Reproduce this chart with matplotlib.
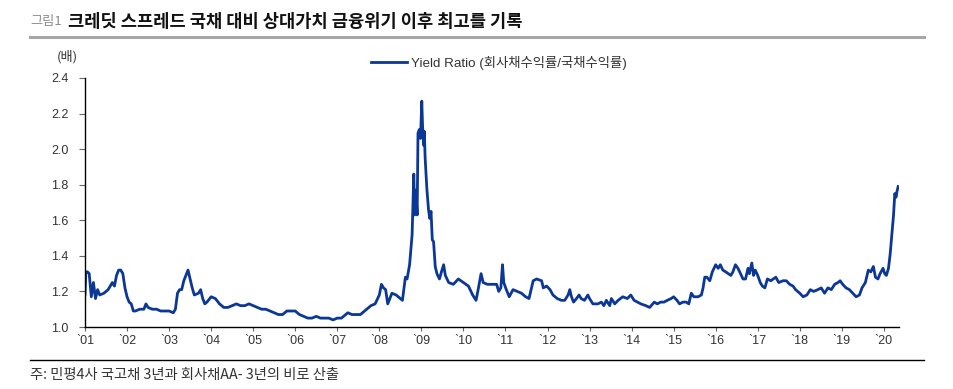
import matplotlib
matplotlib.use("Agg")
import matplotlib.pyplot as plt
from matplotlib.lines import Line2D
import numpy as np

# ---- data (decimal year, ratio) ----
dates = [
    2001.00, 2001.02, 2001.06, 2001.10, 2001.15, 2001.20, 2001.25, 2001.30, 2001.35, 2001.45,
    2001.55, 2001.65, 2001.70, 2001.75, 2001.80, 2001.85, 2001.90, 2001.95, 2002.00, 2002.05,
    2002.10, 2002.15, 2002.20, 2002.30, 2002.40, 2002.45, 2002.50, 2002.60, 2002.70, 2002.80,
    2002.90, 2003.00, 2003.10, 2003.15, 2003.20, 2003.25, 2003.30, 2003.35, 2003.45, 2003.50,
    2003.55, 2003.60, 2003.70, 2003.75, 2003.80, 2003.85, 2003.90, 2004.00, 2004.10, 2004.20,
    2004.30, 2004.40, 2004.50, 2004.60, 2004.70, 2004.80, 2004.90, 2005.00, 2005.10, 2005.20,
    2005.30, 2005.40, 2005.50, 2005.60, 2005.70, 2005.80, 2005.90, 2006.00, 2006.10, 2006.20,
    2006.30, 2006.40, 2006.50, 2006.60, 2006.70, 2006.80, 2006.90, 2007.00, 2007.10, 2007.20,
    2007.25, 2007.35, 2007.45, 2007.55, 2007.60, 2007.70, 2007.80, 2007.90, 2008.00, 2008.05,
    2008.10, 2008.15, 2008.20, 2008.25, 2008.30, 2008.40, 2008.50, 2008.55, 2008.62, 2008.66,
    2008.72, 2008.78, 2008.82, 2008.84, 2008.87, 2008.90, 2008.92, 2008.95, 2008.98, 2009.01,
    2009.03, 2009.06, 2009.07, 2009.09, 2009.13, 2009.17, 2009.20, 2009.23, 2009.26, 2009.29,
    2009.33, 2009.37, 2009.43, 2009.49, 2009.53, 2009.57, 2009.65, 2009.76, 2009.88, 2010.00,
    2010.12, 2010.22, 2010.30, 2010.35, 2010.42, 2010.47, 2010.57, 2010.67, 2010.79, 2010.84,
    2010.89, 2010.93, 2010.96, 2011.02, 2011.09, 2011.18, 2011.28, 2011.38, 2011.48, 2011.56,
    2011.62, 2011.66, 2011.74, 2011.86, 2011.90, 2011.98, 2012.06, 2012.13, 2012.23, 2012.33,
    2012.41, 2012.49, 2012.53, 2012.57, 2012.62, 2012.69, 2012.75, 2012.80, 2012.88, 2012.96,
    2013.00, 2013.08, 2013.20, 2013.28, 2013.34, 2013.40, 2013.48, 2013.52, 2013.60, 2013.68,
    2013.79, 2013.90, 2013.98, 2014.06, 2014.14, 2014.22, 2014.34, 2014.43, 2014.54, 2014.61,
    2014.69, 2014.77, 2014.85, 2014.94, 2015.00, 2015.08, 2015.14, 2015.22, 2015.30, 2015.36,
    2015.42, 2015.48, 2015.58, 2015.66, 2015.70, 2015.74, 2015.79, 2015.86, 2015.92, 2016.00,
    2016.06, 2016.11, 2016.17, 2016.24, 2016.30, 2016.36, 2016.41, 2016.47, 2016.53, 2016.59,
    2016.65, 2016.71, 2016.77, 2016.80, 2016.86, 2016.90, 2016.94, 2017.00, 2017.06, 2017.11,
    2017.17, 2017.23, 2017.31, 2017.37, 2017.43, 2017.50, 2017.60, 2017.68, 2017.76, 2017.84,
    2017.90, 2018.00, 2018.08, 2018.17, 2018.25, 2018.33, 2018.43, 2018.51, 2018.59, 2018.67,
    2018.75, 2018.83, 2018.91, 2018.96, 2019.02, 2019.10, 2019.18, 2019.26, 2019.34, 2019.42,
    2019.48, 2019.56, 2019.63, 2019.69, 2019.75, 2019.80, 2019.86, 2019.91, 2019.98, 2020.02,
    2020.06, 2020.11, 2020.15, 2020.19, 2020.23, 2020.26, 2020.29, 2020.31, 2020.34,
]
yield_ratio = [
    1.18, 1.31, 1.31, 1.30, 1.17, 1.25, 1.16, 1.21, 1.18, 1.19,
    1.21, 1.25, 1.23, 1.29, 1.32, 1.32, 1.30, 1.22, 1.17, 1.14,
    1.13, 1.09, 1.09, 1.10, 1.10, 1.13, 1.11, 1.10, 1.10, 1.09,
    1.09, 1.09, 1.08, 1.10, 1.19, 1.21, 1.21, 1.26, 1.32, 1.27,
    1.22, 1.18, 1.19, 1.21, 1.16, 1.13, 1.14, 1.17, 1.16, 1.13,
    1.11, 1.11, 1.12, 1.13, 1.12, 1.12, 1.13, 1.12, 1.11, 1.10,
    1.10, 1.09, 1.08, 1.07, 1.07, 1.09, 1.09, 1.09, 1.07, 1.06,
    1.05, 1.05, 1.06, 1.05, 1.05, 1.05, 1.04, 1.05, 1.05, 1.07,
    1.08, 1.07, 1.07, 1.07, 1.08, 1.10, 1.12, 1.13, 1.18, 1.24,
    1.22, 1.21, 1.13, 1.16, 1.19, 1.18, 1.16, 1.15, 1.28, 1.27,
    1.35, 1.52, 1.86, 1.63, 1.77, 1.63, 2.09, 2.11, 2.06, 2.27,
    2.12, 2.02, 2.10, 1.95, 1.78, 1.66, 1.61, 1.65, 1.49, 1.48,
    1.34, 1.30, 1.27, 1.32, 1.35, 1.29, 1.25, 1.24, 1.27, 1.25,
    1.23, 1.18, 1.15, 1.21, 1.30, 1.25, 1.24, 1.24, 1.24, 1.20,
    1.22, 1.35, 1.25, 1.21, 1.17, 1.21, 1.20, 1.19, 1.17, 1.16,
    1.22, 1.26, 1.27, 1.26, 1.22, 1.23, 1.21, 1.18, 1.16, 1.15,
    1.15, 1.18, 1.21, 1.17, 1.14, 1.16, 1.18, 1.16, 1.15, 1.18,
    1.16, 1.13, 1.13, 1.14, 1.12, 1.15, 1.12, 1.16, 1.13, 1.15,
    1.17, 1.16, 1.18, 1.15, 1.14, 1.13, 1.12, 1.11, 1.14, 1.13,
    1.14, 1.14, 1.15, 1.16, 1.17, 1.15, 1.13, 1.14, 1.14, 1.13,
    1.19, 1.17, 1.17, 1.18, 1.22, 1.28, 1.28, 1.26, 1.31, 1.35,
    1.33, 1.35, 1.32, 1.31, 1.30, 1.29, 1.31, 1.35, 1.33, 1.30,
    1.27, 1.27, 1.33, 1.30, 1.36, 1.29, 1.32, 1.29, 1.25, 1.23,
    1.22, 1.27, 1.26, 1.27, 1.28, 1.25, 1.26, 1.26, 1.24, 1.23,
    1.21, 1.19, 1.17, 1.18, 1.21, 1.20, 1.21, 1.22, 1.19, 1.22,
    1.21, 1.24, 1.25, 1.26, 1.24, 1.22, 1.21, 1.19, 1.17, 1.18,
    1.22, 1.25, 1.32, 1.31, 1.34, 1.28, 1.27, 1.30, 1.33, 1.30,
    1.29, 1.33, 1.41, 1.52, 1.63, 1.75, 1.73, 1.76, 1.79,
]
year_ticks = list(range(2001, 2021))
year_labels = ["`%02d" % (y % 100) for y in year_ticks]
y_ticks = [1.0, 1.2, 1.4, 1.6, 1.8, 2.0, 2.2, 2.4]
y_labels = ["%.1f" % v for v in y_ticks]

title_prefix = "그림1"
title_text = "크레딧 스프레드 국채 대비 상대가치 금융위기 이후 최고를 기록"
unit_text = "(배)"
series_label = "Yield Ratio (회사채수익률/국채수익률)"
note_text = "주: 민평4사 국고채 3년과 회사채AA- 3년의 비로 산출"

# ---- style ----
KR = ["Noto Sans CJK KR", "DejaVu Sans"]
NUM = ["Liberation Sans Narrow", "Liberation Sans", "Noto Sans CJK KR", "DejaVu Sans"]
plt.rcParams["font.family"] = NUM
LINE_COLOR = "#0b3797"
TEXT = "#333333"

W, H = 954, 389
fig = plt.figure(figsize=(W / 100, H / 100), dpi=100)
fig.patch.set_facecolor("white")

L, R, B, T = 85, 899, 327, 78
ax = fig.add_axes([L / W, 1 - B / H, (R - L) / W, (B - T) / H])
ax.plot(dates, yield_ratio, color=LINE_COLOR, lw=2.0, solid_joinstyle="round",
        label=series_label)
ax.set_xlim(2001, 2020.36)
ax.set_ylim(1.0, 2.4)
ax.set_xticks(year_ticks)
ax.set_xticklabels(year_labels)
ax.set_yticks(y_ticks)
ax.set_yticklabels(y_labels)
for s in ("top", "right"):
    ax.spines[s].set_visible(False)
for s in ("left", "bottom"):
    ax.spines[s].set_color("black")
    ax.spines[s].set_linewidth(1.0)
ax.tick_params(axis="y", direction="out", length=4, width=0.8, pad=8,
               labelsize=9, labelcolor=TEXT, color="#666666")
ax.tick_params(axis="x", direction="out", length=3, width=0.8, pad=3,
               labelsize=9, labelcolor=TEXT, color="#666666")

leg = ax.legend(loc="center left", bbox_to_anchor=(371 / W, 1 - 63 / H),
                bbox_transform=fig.transFigure, frameon=False,
                handlelength=2.7, handletextpad=0.3, borderpad=0, borderaxespad=0,
                prop={"family": NUM, "size": 9.6})
for t in leg.get_texts():
    t.set_color(TEXT)

# title
fig.text(30 / W, 1 - 22 / H, title_prefix, family=KR, fontsize=9.5, color="#8c8c8c",
         va="center", ha="left")
fig.text(68 / W, 1 - 22 / H, title_text, family=KR, fontsize=12.7, weight="bold",
         color="#111111", va="center", ha="left")
fig.add_artist(Line2D([30 / W, 924 / W], [1 - 36.5 / H, 1 - 36.5 / H],
                      transform=fig.transFigure, color="#a6a6a6", lw=2.2))

# unit
fig.text(57 / W, 1 - 57 / H, unit_text, family=KR, fontsize=9.5, color=TEXT,
         va="center", ha="left")

# footer
fig.add_artist(Line2D([30 / W, 924 / W], [1 - 360 / H, 1 - 360 / H],
                      transform=fig.transFigure, color="black", lw=1.0))
fig.text(30 / W, 1 - 375 / H, note_text, family=KR, fontsize=10.3, color=TEXT,
         va="center", ha="left")

fig.savefig("out.png", dpi=100, facecolor="white")
